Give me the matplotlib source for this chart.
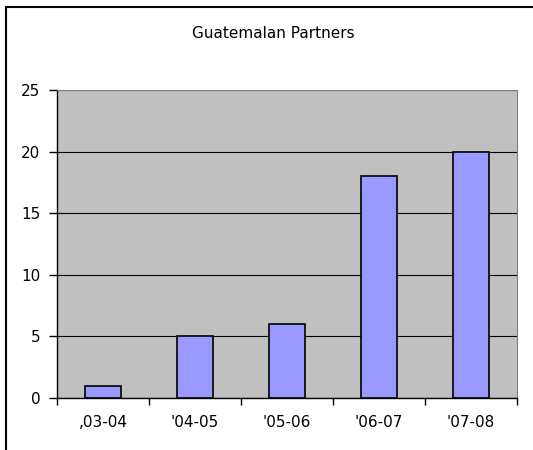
import matplotlib.pyplot as plt
from matplotlib.patches import Rectangle

plt.rcParams['font.family'] = ['DejaVu Sans']

# data
seasons = [",03-04", "'04-05", "'05-06", "'06-07", "'07-08"]
partners = [1, 5, 6, 18, 20]
y_ticks = [0, 5, 10, 15, 20, 25]

W, H = 533, 450
fig = plt.figure(figsize=(W / 100, H / 100), dpi=100)

# outer chart border (right and bottom sides run off the image)
fig.patches.append(Rectangle((6 / W, -0.05), 1.1, 1.05 - 7 / H,
                             transform=fig.transFigure, fill=False,
                             edgecolor='black', linewidth=1.5))

# plot area: x 57..517, y 90..398 (pixels from top)
ax = fig.add_axes([57 / W, 1 - 398 / H, 460 / W, 308 / H])
ax.set_facecolor('#C0C0C0')

x = range(len(seasons))
ax.bar(x, partners, width=0.4, color='#9999FF', edgecolor='black',
       linewidth=1.2, zorder=3)

ax.set_ylim(0, 25)
ax.set_xlim(-0.5, len(seasons) - 0.5)
ax.set_yticks(y_ticks)
ax.set_yticklabels([str(t) for t in y_ticks], fontsize=11)
ax.yaxis.grid(True, color='black', linewidth=0.8, zorder=1)

# category labels centered, tick marks on the boundaries
ax.set_xticks(list(x))
ax.set_xticklabels(seasons, fontsize=11)
ax.tick_params(axis='x', length=0, pad=12)
ax.set_xticks([i - 0.5 for i in range(len(seasons) + 1)], minor=True)
ax.tick_params(axis='x', which='minor', length=5, width=1, direction='out')
ax.tick_params(axis='y', length=6, width=1, direction='out', pad=6)

for side in ['top', 'right']:
    ax.spines[side].set_color('#808080')
for side in ['left', 'bottom']:
    ax.spines[side].set_color('black')
    ax.spines[side].set_linewidth(1)

fig.text(273 / W, 1 - 33 / H, 'Guatemalan Partners', ha='center',
         va='center', fontsize=11)

fig.savefig('out.png', dpi=100)
